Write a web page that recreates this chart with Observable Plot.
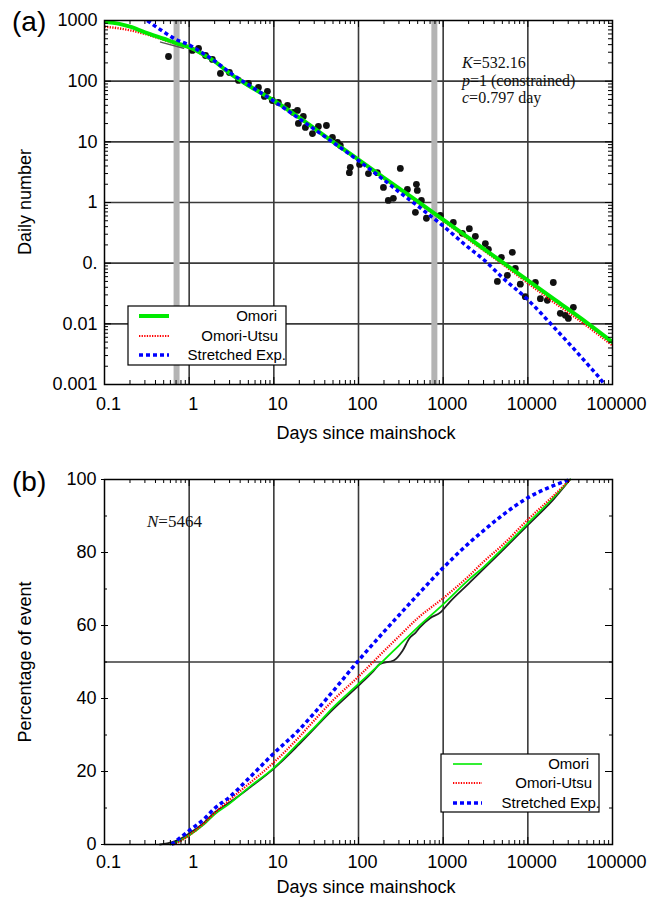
<!DOCTYPE html>
<html>
<head>
<meta charset="utf-8">
<script src="https://cdn.jsdelivr.net/npm/d3@7"></script>
<script src="https://cdn.jsdelivr.net/npm/@observablehq/plot@0.6"></script>
<style>
  html, body { margin: 0; padding: 0; background: #fff; }
  #chart { width: 662px; }
  #chart svg { display: block; }
</style>
</head>
<body>
<div id="chart"></div>
<script>
// ---------------- data ----------------
const xTickValues = [0.1, 1, 10, 100, 1000, 10000, 100000];
const xTickLabels = ["0.1", "1", "10", "100", "1000", "10000", "100000"];
const yTickValuesA = [1000, 100, 10, 1, 0.1, 0.01, 0.001];
const yTickLabelsA = ["1000", "100", "10", "1", "0.", "0.01", "0.001"];
const yTickValuesB = [0, 20, 40, 60, 80, 100];
const yTickLabelsB = ["0", "20", "40", "60", "80", "100"];
const gridDays = [1, 10, 100, 1000, 10000];
const gridCountsA = [100, 10, 1, 0.1, 0.01];
const gridPercentB = [50];
const markedDays = [0.71, 787];

const legendLabels = ["Omori", "Omori-Utsu", "Stretched Exp."];
const fitSymbols = ["K", "p", "c"];
const fitValues = ["=532.16", "=1 (constrained)", "=0.797 day"];
const eventSymbol = "N";
const eventValue = "=5464";

// (a) daily number of aftershocks (dots)
const dailyDays = [0.57, 1.09, 1.29, 1.56, 1.88, 2.34, 2.99, 3.82, 5.01, 6.58, 8.4, 7.74, 9.6, 11.3, 14.5, 17.0, 19.0, 19.5, 22.3, 23.6, 28.6, 33.6, 41.8, 49.2, 56.4, 61, 80, 78, 103, 131, 167, 197, 225, 258, 312, 378, 483, 495, 553, 470, 634, 927, 1318, 1685, 2038, 2400, 3150, 3420, 4870, 6560, 7120, 5730, 4370, 8150, 9330, 12270, 20000, 14060, 17000, 24200, 27700, 30100, 34500];
const dailyCounts = [255, 321, 346, 265, 228, 134, 139, 103, 92, 79, 68, 56, 48, 44.6, 39.8, 30.5, 32.9, 20.1, 26.2, 17.3, 13.7, 17.9, 18.6, 11.8, 9.8, 8.7, 3.8, 3.1, 4.25, 3.0, 3.1, 1.77, 1.08, 1.17, 3.65, 1.64, 1.99, 1.58, 1.08, 0.69, 0.55, 0.61, 0.47, 0.31, 0.37, 0.277, 0.21, 0.169, 0.125, 0.151, 0.082, 0.063, 0.050, 0.045, 0.028, 0.048, 0.048, 0.026, 0.0244, 0.0149, 0.0138, 0.0123, 0.0187];

// scanned original fit remnant
const scanFitDays = [0.46, 0.86];
const scanFitCounts = [440, 350];

// (a) fitted rate curves
const omoriDaysA = [0.1, 0.15, 0.2, 0.3, 0.5, 0.7, 1, 1.5, 2, 3, 5, 10, 20, 50, 100, 200, 500, 1000, 2000, 5000, 10000, 20000, 50000, 100000];
const omoriRateA = [950, 880, 790, 640, 500, 425, 362, 270, 212, 135, 85, 48, 25, 10, 5.1, 2.55, 1.04, 0.52, 0.26, 0.104, 0.052, 0.026, 0.0104, 0.005];
const utsuDaysA = [0.1, 0.15, 0.2, 0.3, 0.5, 0.7, 1, 1.5, 2, 3, 5, 10, 20, 50, 100, 200, 500, 1000, 2000, 5000, 10000, 20000, 50000, 100000];
const utsuRateA = [790, 740, 690, 600, 480, 410, 352, 265, 210, 136, 86, 48, 25, 10, 5.0, 2.5, 1.0, 0.5, 0.245, 0.097, 0.047, 0.023, 0.0092, 0.0044];
const stretchDaysA = [0.32, 0.4, 0.5, 0.7, 1, 1.5, 2, 3, 5, 10, 20, 50, 100, 200, 300, 500, 700, 1000, 2000, 3000, 5000, 10000, 20000, 50000, 80000, 100000];
const stretchRateA = [1000, 800, 650, 485, 395, 280, 215, 140, 87, 47, 24, 9.8, 4.9, 2.35, 1.5, 0.88, 0.61, 0.41, 0.18, 0.115, 0.058, 0.025, 0.009, 0.0022, 0.001, 0.0006];

// (b) cumulative percentage curves
const observedDaysB = [0.45, 0.55, 0.7, 0.85, 1, 1.5, 2, 3, 5, 10, 20, 50, 100, 150, 180, 260, 330, 400, 470, 530, 700, 930, 1200, 2000, 5000, 10000, 20000, 31600];
const observedPctB = [0, 0.3, 1, 2, 3, 6, 8.8, 11.5, 15.3, 20.8, 27.5, 37, 43.5, 47.5, 49.5, 50.4, 53, 56.5, 58, 59.5, 62, 63.6, 66.5, 71.5, 80.5, 87.5, 94.5, 100];
const omoriDaysB = [0.6, 0.8, 1, 1.5, 2, 3, 5, 10, 20, 30, 50, 100, 200, 300, 500, 1000, 2000, 3000, 5000, 10000, 20000, 31600];
const omoriPctB = [0, 1.2, 2.5, 5.5, 8.3, 11.2, 15.5, 21, 28, 32, 37.5, 44, 50.5, 54.5, 59.5, 65.8, 72.5, 76, 81, 88, 95, 100];
const utsuDaysB = [0.65, 0.8, 1, 1.5, 2, 3, 5, 10, 20, 30, 50, 100, 200, 300, 500, 1000, 2000, 3000, 5000, 10000, 20000, 31600];
const utsuPctB = [0, 1, 2.5, 5.8, 8.6, 12.2, 16.5, 22.5, 29.5, 34, 39.5, 46, 53, 57, 62, 67.5, 73.5, 77.5, 82, 89, 95.5, 100];
const stretchDaysB = [0.62, 0.8, 1, 1.5, 2, 3, 5, 10, 20, 30, 50, 100, 200, 300, 500, 1000, 2000, 3000, 5000, 10000, 20000, 31600];
const stretchPctB = [0, 2, 3.8, 7, 9.9, 13, 18, 25, 31.5, 36, 42, 50.4, 58.3, 62.8, 68.4, 75.8, 82.5, 86, 90.2, 95, 98.3, 100];

// ---------------- helpers ----------------
const FONT = "'Liberation Sans', Arial, Helvetica, sans-serif";
const SERIF = "'Liberation Serif', 'Times New Roman', serif";
const GREEN = "#00ea00", RED = "#ff0000", BLUE = "#0000ff";

const pts = (xs, ys) => xs.map((x, i) => ({x, y: ys[i]}));
const lookup = (vals, labels) => d => labels[vals.indexOf(d)];

function logMinor(lo, hi) {
  const out = [];
  for (let e = Math.floor(Math.log10(lo)); e <= Math.ceil(Math.log10(hi)); e++) {
    for (let k = 2; k < 10; k++) {
      const v = k * Math.pow(10, e);
      if (v > lo * 1.0001 && v < hi * 0.9999) out.push(v);
    }
  }
  return out;
}

function drawLegend(svg, box, lineX, rowsY, textRight, styles) {
  const g = d3.select(svg).append("g");
  g.append("rect").attr("x", box.x).attr("y", box.y).attr("width", box.w).attr("height", box.h)
    .attr("fill", "#fff").attr("stroke", "#000").attr("stroke-width", 1.2);
  legendLabels.forEach((lab, i) => {
    const s = styles[i];
    g.append("line").attr("x1", lineX[0]).attr("x2", lineX[1]).attr("y1", rowsY[i]).attr("y2", rowsY[i])
      .attr("stroke", s.stroke).attr("stroke-width", s.width).attr("stroke-dasharray", s.dash || null)
      .attr("stroke-linecap", "butt");
    g.append("text").attr("x", textRight[i]).attr("y", rowsY[i]).attr("dy", "0.35em")
      .attr("text-anchor", "end").attr("font-family", FONT).attr("font-size", 15).attr("fill", "#000").text(lab);
  });
}

function addText(svg, x, y, txt, opts = {}) {
  const t = d3.select(svg).append("text").attr("x", x).attr("y", y)
    .attr("font-family", opts.family || FONT).attr("font-size", opts.size || 18).attr("fill", opts.fill || "#000")
    .attr("text-anchor", opts.anchor || "start");
  if (opts.rotate) t.attr("transform", `rotate(-90 ${x} ${y})`).attr("dominant-baseline", "central");
  t.text(txt);
  return t;
}

function addFit(svg, x, y, sym, rest, size) {
  const t = d3.select(svg).append("text").attr("x", x).attr("y", y).attr("text-anchor", "start")
    .attr("font-family", SERIF).attr("font-size", size).attr("fill", "#111");
  t.append("tspan").attr("font-style", "italic").text(sym);
  t.append("tspan").text(rest);
}

const tickStyle = {stroke: "#000", strokeWidth: 1};
const dotted = {strokeDasharray: "1.3,1.3", strokeLinecap: "butt"};
const dashed = {strokeDasharray: "4,3", strokeLinecap: "butt"};

// ---------------- panel (a) ----------------
const pwA = 508, phA = 364;
const minorXA = logMinor(0.1, 100000);
const minorYA = logMinor(0.001, 1000);

const plotA = Plot.plot({
  width: 662, height: 440,
  marginLeft: 104, marginRight: 50, marginTop: 20, marginBottom: 56,
  style: {fontFamily: FONT, fontSize: "18px", color: "#000", background: "#fff", overflow: "visible"},
  x: {type: "log", domain: [0.1, 100000]},
  y: {type: "log", domain: [0.001, 1000]},
  marks: [
    Plot.ruleX(gridDays, {x: d => d, stroke: "#3a3a3a", strokeWidth: 1.6}),
    Plot.ruleY(gridCountsA, {y: d => d, stroke: "#3a3a3a", strokeWidth: 1.6}),
    Plot.ruleX(markedDays, {x: d => d, stroke: "#b4b4b4", strokeWidth: 6}),
    Plot.line(pts(scanFitDays, scanFitCounts), {x: "x", y: "y", stroke: "#555", strokeWidth: 1.5}),
    Plot.dot(pts(dailyDays, dailyCounts), {x: "x", y: "y", r: 3.4, fill: "#111", stroke: "none"}),
    Plot.line(pts(utsuDaysA, utsuRateA), {x: "x", y: "y", stroke: RED, strokeWidth: 2.4, ...dotted, curve: "monotone-x", clip: true}),
    Plot.line(pts(omoriDaysA, omoriRateA), {x: "x", y: "y", stroke: GREEN, strokeWidth: 4, curve: "monotone-x", clip: true}),
    Plot.line(pts(stretchDaysA, stretchRateA), {x: "x", y: "y", stroke: BLUE, strokeWidth: 3.5, ...dashed, curve: "monotone-x", clip: true}),
    // frame ticks
    Plot.tickX(minorXA, {x: d => d, insetTop: phA - 4, ...tickStyle}),
    Plot.tickX(xTickValues, {x: d => d, insetTop: phA - 7, ...tickStyle}),
    Plot.tickX(minorXA, {x: d => d, insetBottom: phA - 4, ...tickStyle}),
    Plot.tickX(xTickValues, {x: d => d, insetBottom: phA - 7, ...tickStyle}),
    Plot.tickY(minorYA, {y: d => d, insetRight: pwA - 4, ...tickStyle}),
    Plot.tickY(yTickValuesA, {y: d => d, insetRight: pwA - 7, ...tickStyle}),
    Plot.tickY(minorYA, {y: d => d, insetLeft: pwA - 4, ...tickStyle}),
    Plot.tickY(yTickValuesA, {y: d => d, insetLeft: pwA - 7, ...tickStyle}),
    Plot.axisX({ticks: xTickValues, tickFormat: lookup(xTickValues, xTickLabels), tickSize: 0, tickPadding: 13, dx: 4, fontSize: 18, label: null}),
    Plot.axisY({ticks: yTickValuesA, tickFormat: lookup(yTickValuesA, yTickLabelsA), tickSize: 0, tickPadding: 7, fontSize: 18, label: null}),
    Plot.frame({stroke: "#000", strokeWidth: 1.5})
  ]
});

// ---------------- panel (b) ----------------
const pwB = 508, phB = 365;
const minorYB = [10, 30, 50, 70, 90];

const plotB = Plot.plot({
  width: 662, height: 458,
  marginLeft: 104, marginRight: 50, marginTop: 39, marginBottom: 54,
  style: {fontFamily: FONT, fontSize: "18px", color: "#000", background: "#fff", overflow: "visible"},
  x: {type: "log", domain: [0.1, 100000]},
  y: {type: "linear", domain: [0, 100]},
  marks: [
    Plot.ruleX(gridDays, {x: d => d, stroke: "#3a3a3a", strokeWidth: 1.6}),
    Plot.ruleY(gridPercentB, {y: d => d, stroke: "#3a3a3a", strokeWidth: 1.6}),
    Plot.line(pts(observedDaysB, observedPctB), {x: "x", y: "y", stroke: "#222", strokeWidth: 1.8, curve: "monotone-x"}),
    Plot.line(pts(omoriDaysB, omoriPctB), {x: "x", y: "y", stroke: GREEN, strokeWidth: 1.8, curve: "monotone-x"}),
    Plot.line(pts(utsuDaysB, utsuPctB), {x: "x", y: "y", stroke: RED, strokeWidth: 2.2, ...dotted, curve: "monotone-x"}),
    Plot.line(pts(stretchDaysB, stretchPctB), {x: "x", y: "y", stroke: BLUE, strokeWidth: 3.5, ...dashed, curve: "monotone-x"}),
    Plot.tickX(minorXA, {x: d => d, insetTop: phB - 4, ...tickStyle}),
    Plot.tickX(xTickValues, {x: d => d, insetTop: phB - 7, ...tickStyle}),
    Plot.tickX(minorXA, {x: d => d, insetBottom: phB - 4, ...tickStyle}),
    Plot.tickX(xTickValues, {x: d => d, insetBottom: phB - 7, ...tickStyle}),
    Plot.tickY(yTickValuesB, {y: d => d, insetLeft: -3, insetRight: pwB - 4, ...tickStyle}),
    Plot.tickY(minorYB, {y: d => d, insetRight: pwB - 3, ...tickStyle}),
    Plot.tickY(yTickValuesB, {y: d => d, insetLeft: pwB - 7, ...tickStyle}),
    Plot.tickY(minorYB, {y: d => d, insetLeft: pwB - 3, ...tickStyle}),
    Plot.axisX({ticks: xTickValues, tickFormat: lookup(xTickValues, xTickLabels), tickSize: 0, tickPadding: 11, dx: 4, fontSize: 18, label: null}),
    Plot.axisY({ticks: yTickValuesB, tickFormat: lookup(yTickValuesB, yTickLabelsB), tickSize: 0, tickPadding: 8, fontSize: 18, label: null}),
    Plot.frame({stroke: "#000", strokeWidth: 1.5})
  ]
});

// ---------------- annotations ----------------
addText(plotA, 12, 31, "(a)", {size: 28});
addText(plotA, 25, 202, "Daily number", {size: 18, anchor: "middle", rotate: true});
addText(plotA, 366, 439, "Days since mainshock", {size: 18, anchor: "middle"});
fitSymbols.forEach((s, i) => addFit(plotA, 462, 68 + i * 17.5, s, fitValues[i], 16));
drawLegend(plotA, {x: 128, y: 306, w: 158, h: 59}, [139, 169], [316, 336, 355], [277, 278, 286], [
  {stroke: GREEN, width: 4},
  {stroke: RED, width: 2, dash: "1.3,1.3"},
  {stroke: BLUE, width: 3.5, dash: "4,3"}
]);

addText(plotB, 12, 51, "(b)", {size: 28});
addText(plotB, 25, 222, "Percentage of event", {size: 18, anchor: "middle", rotate: true});
addText(plotB, 366, 453, "Days since mainshock", {size: 18, anchor: "middle"});
addFit(plotB, 147, 87, eventSymbol, eventValue, 17);
drawLegend(plotB, {x: 441, y: 314, w: 158, h: 58}, [453, 482], [324, 343, 363], [589, 592, 600], [
  {stroke: GREEN, width: 1.6},
  {stroke: RED, width: 2, dash: "1.3,1.3"},
  {stroke: BLUE, width: 3.5, dash: "4,3"}
]);

const host = document.getElementById("chart");
host.appendChild(plotA);
host.appendChild(plotB);
</script>
</body>
</html>
